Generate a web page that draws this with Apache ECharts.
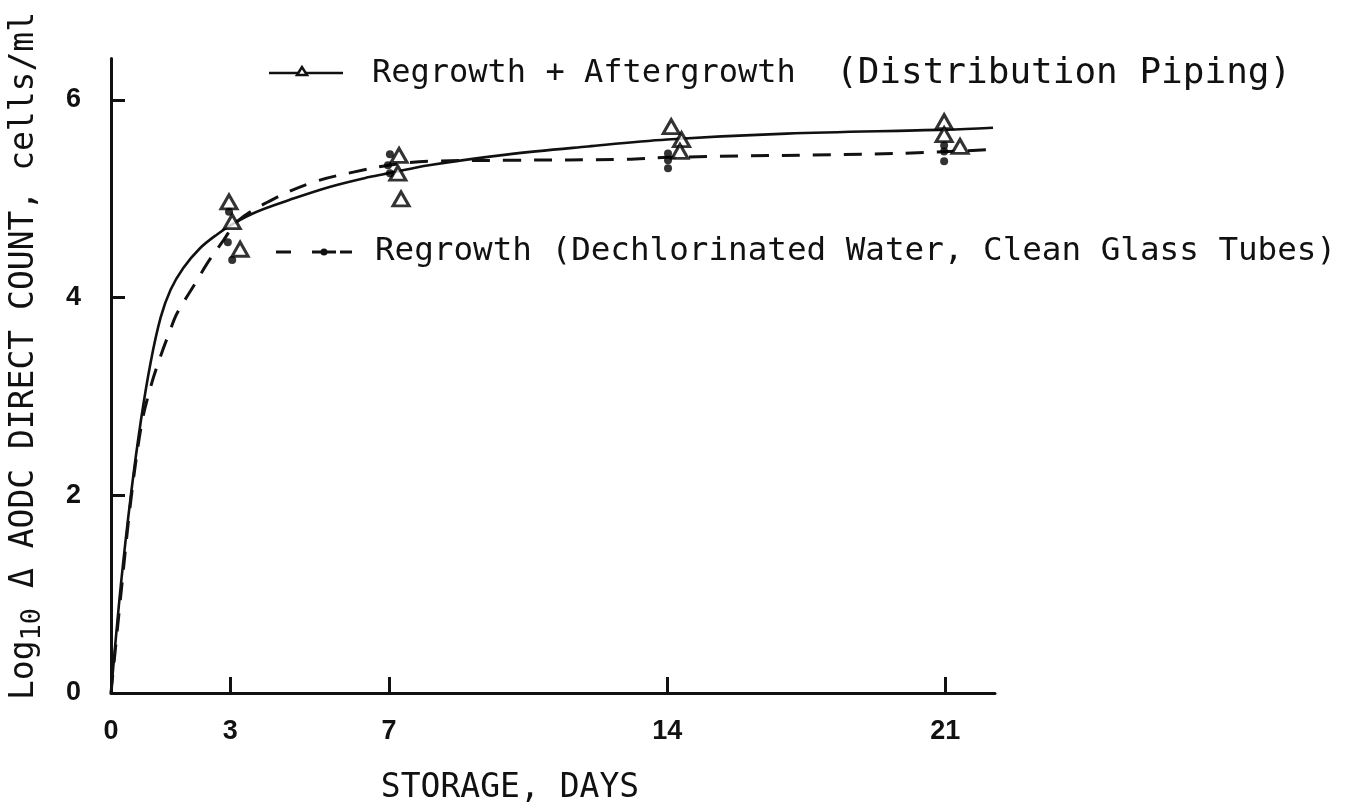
<!DOCTYPE html>
<html>
<head>
<meta charset="utf-8">
<script src="https://cdn.jsdelivr.net/npm/echarts@6/dist/echarts.min.js"></script>
<style>
  html, body { margin: 0; padding: 0; background: #fff; }
  #chart { width: 1353px; height: 804px; }
</style>
</head>
<body>
<div id="chart"></div>
<script>
// Storage time (days) and the axis labels
const xTickLabels = [0, 3, 7, 14, 21];
const xTickMarks = [3, 7, 14, 21];
const yTickValues = [0, 2, 4, 6];

// Fitted curve: Regrowth + Aftergrowth (Distribution Piping), [day, log10 count]
const aftergrowthCurve = [
  [0, 0], [0.25, 1.1], [0.5, 2.0], [0.75, 2.75], [1.0, 3.35], [1.25, 3.8],
  [1.5, 4.08], [1.82, 4.3], [2.24, 4.5], [2.67, 4.64], [3.08, 4.75], [3.67, 4.87],
  [4.5, 4.99], [5.5, 5.12], [6.5, 5.22], [7, 5.26], [8, 5.34], [10, 5.45],
  [12, 5.53], [14, 5.6], [17, 5.66], [21, 5.7], [22.2, 5.72]
];

// Fitted curve: Regrowth (Dechlorinated Water, Clean Glass Tubes)
const regrowthCurve = [
  [0, 0], [0.25, 1.0], [0.5, 1.95], [0.77, 2.72], [1.0, 3.1], [1.24, 3.4],
  [1.49, 3.67], [1.66, 3.84], [2.16, 4.17], [2.41, 4.34], [2.83, 4.58],
  [3.2, 4.78], [4.1, 5.0], [5.1, 5.17], [6.1, 5.27], [7, 5.34], [8, 5.38],
  [10, 5.39], [13, 5.4], [14, 5.42], [19.8, 5.46], [22.2, 5.5]
];

// Observations, triangles: Regrowth + Aftergrowth
const aftergrowthPoints = [
  [2.97, 4.97], [3.05, 4.77], [3.25, 4.49],
  [7.25, 5.44], [7.22, 5.26], [7.3, 5.0],
  [14.1, 5.73], [14.36, 5.6], [14.32, 5.48],
  [20.97, 5.78], [20.97, 5.65], [21.37, 5.53]
];

// Observations, dots: Regrowth
const regrowthPoints = [
  [2.97, 4.87], [2.94, 4.56], [3.05, 4.38],
  [7.02, 5.45], [6.97, 5.34], [7.02, 5.26],
  [14.02, 5.46], [14.02, 5.39], [14.02, 5.31],
  [20.97, 5.54], [20.97, 5.48], [20.97, 5.38]
];

const legendMain = ['Regrowth + Aftergrowth', 'Regrowth (Dechlorinated Water, Clean Glass Tubes)'];
const legendNote = '(Distribution Piping)';
const xTitle = 'STORAGE, DAYS';

const INK = '#111111';
const MONO = '"DejaVu Sans Mono", "Liberation Mono", monospace';
const BOLD = '"Liberation Sans", Arial, sans-serif';

const chart = echarts.init(document.getElementById('chart'), null, { renderer: 'canvas' });

chart.setOption({
  backgroundColor: '#ffffff',
  animation: false,
  grid: { left: 111, right: 358, top: 58.5, bottom: 111, containLabel: false },
  xAxis: {
    type: 'value',
    min: 0,
    max: 22.25,
    axisLine: { show: true, onZero: false, lineStyle: { color: INK, width: 3 } },
    axisTick: {
      show: true, inside: true, length: 16,
      customValues: xTickMarks,
      lineStyle: { color: INK, width: 3 }
    },
    axisLabel: {
      customValues: xTickLabels,
      margin: 25,
      color: INK,
      fontFamily: BOLD,
      fontWeight: 'bold',
      fontSize: 27
    },
    splitLine: { show: false }
  },
  yAxis: {
    type: 'value',
    min: 0,
    max: 6.42,
    axisLine: { show: true, onZero: false, lineStyle: { color: INK, width: 3 } },
    axisTick: {
      show: true, inside: true, length: 14,
      customValues: [2, 4, 6],
      lineStyle: { color: INK, width: 3 }
    },
    axisLabel: {
      customValues: yTickValues,
      margin: 30,
      color: INK,
      fontFamily: BOLD,
      fontWeight: 'bold',
      fontSize: 27
    },
    splitLine: { show: false }
  },
  series: [
    {
      name: legendMain[0],
      type: 'line',
      data: aftergrowthCurve,
      smooth: 0.35,
      showSymbol: false,
      lineStyle: { color: INK, width: 2.6 },
      z: 3
    },
    {
      name: legendMain[1],
      type: 'line',
      data: regrowthCurve,
      smooth: 0.35,
      showSymbol: false,
      lineStyle: { color: INK, width: 3, type: [18, 13] },
      z: 3
    },
    {
      name: 'aftergrowth-obs',
      type: 'scatter',
      data: aftergrowthPoints,
      symbol: 'triangle',
      symbolSize: [16, 14],
      itemStyle: { color: '#ffffff', borderColor: '#000', borderWidth: 3 },
      z: 5
    },
    {
      name: 'regrowth-obs',
      type: 'scatter',
      data: regrowthPoints,
      symbol: 'circle',
      symbolSize: 8,
      itemStyle: { color: '#000' },
      z: 6
    }
  ],
  graphic: [
    // legend key: solid line with a small triangle
    { type: 'line', shape: { x1: 269, y1: 73, x2: 343, y2: 73 }, style: { stroke: INK, lineWidth: 2.6 } },
    { type: 'polygon', shape: { points: [[302, 67], [297, 75], [307, 75]] },
      style: { fill: '#fff', stroke: INK, lineWidth: 2.5 } },
    { type: 'text', x: 372, y: 74,
      style: { text: legendMain[0], font: '32px ' + MONO, fill: INK, verticalAlign: 'middle' } },
    { type: 'text', x: 836, y: 74,
      style: { text: legendNote, font: '36px ' + MONO, fill: INK, verticalAlign: 'middle' } },
    // legend key: dashed line with a dot
    { type: 'line', shape: { x1: 276, y1: 252, x2: 291, y2: 252 }, style: { stroke: INK, lineWidth: 3 } },
    { type: 'line', shape: { x1: 312, y1: 252, x2: 336, y2: 252 }, style: { stroke: INK, lineWidth: 3 } },
    { type: 'circle', shape: { cx: 324, cy: 252, r: 3.5 }, style: { fill: INK } },
    { type: 'line', shape: { x1: 340, y1: 252, x2: 352, y2: 252 }, style: { stroke: INK, lineWidth: 3 } },
    { type: 'text', x: 375, y: 252,
      style: { text: legendMain[1], font: '32.6px ' + MONO, fill: INK, verticalAlign: 'middle' } },
    // x-axis title
    { type: 'text', x: 510, y: 788,
      style: { text: xTitle, font: '33px ' + MONO, fill: INK, align: 'center', verticalAlign: 'middle' } },
    // y-axis title with subscript
    { type: 'text', x: 24, y: 356, rotation: Math.PI / 2,
      style: {
        text: '{a|Log}{s|10}{a| Δ AODC DIRECT COUNT, cells/ml}',
        align: 'center', verticalAlign: 'middle', fill: INK,
        rich: {
          a: { fontSize: 33, fontFamily: MONO, fill: INK, color: INK, lineHeight: 44, verticalAlign: 'middle' },
          s: { fontSize: 27, fontFamily: MONO, fill: INK, color: INK, lineHeight: 44, verticalAlign: 'bottom' }
        }
      } }
  ]
});
</script>
</body>
</html>
